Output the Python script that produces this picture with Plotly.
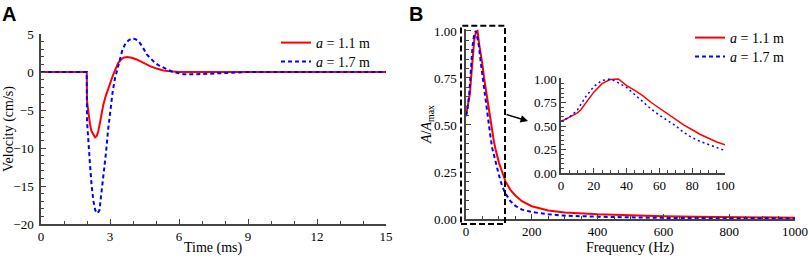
import plotly.graph_objects as go

W, H = 809, 258

# ---------------- data ----------------
time_red = [0, 1.99, 2.0, 2.06, 2.13, 2.2, 2.28, 2.35, 2.42, 2.49, 2.6, 2.71, 2.82, 2.93, 3.04, 3.14, 3.25, 3.36, 3.47, 3.58, 3.75, 3.95, 4.16, 4.45, 4.74, 5.03, 5.32, 5.7, 6.04, 8, 10, 12, 15]
vel_red = [0, 0, -3.8, -5.6, -6.9, -7.8, -8.35, -8.6, -8.45, -7.8, -6.1, -4.3, -3.1, -2.1, -1.15, -0.33, 0.45, 1.2, 1.6, 1.88, 1.96, 1.88, 1.65, 1.2, 0.77, 0.45, 0.2, 0.05, 0, 0, 0, 0, 0]

time_blue = [0, 1.99, 2.0, 2.06, 2.13, 2.2, 2.28, 2.36, 2.45, 2.54, 2.64, 2.74, 2.83, 2.91, 3.0, 3.12, 3.22, 3.33, 3.43, 3.54, 3.65, 3.8, 3.94, 4.08, 4.23, 4.42, 4.6, 4.78, 4.96, 5.14, 5.32, 5.55, 5.75, 6.0, 6.19, 6.77, 7.5, 8.3, 9, 12, 15]
vel_blue = [0, 0, -6.4, -9.6, -12.2, -14.9, -17.0, -18.2, -18.6, -18.2, -15.7, -13.1, -10.5, -7.8, -5.2, -2.5, -0.8, 0.6, 1.9, 2.9, 3.6, 4.15, 4.4, 4.35, 4.1, 3.3, 2.3, 1.7, 1.2, 0.85, 0.55, 0.25, 0.0, -0.2, -0.3, -0.3, -0.2, -0.1, 0, 0, 0]

freq_red = [0, 5, 10, 12, 15, 20, 25, 30, 35, 40, 45, 50, 55, 60, 65, 70, 75, 80, 85, 90, 95, 100, 110, 120, 135, 150, 170, 200, 250, 300, 400, 500, 600, 700, 800, 900, 1000]
amp_red = [0.546, 0.59, 0.64, 0.67, 0.74, 0.86, 0.95, 0.995, 1.0, 0.93, 0.88, 0.82, 0.75, 0.69, 0.63, 0.57, 0.51, 0.46, 0.41, 0.37, 0.33, 0.30, 0.25, 0.20, 0.155, 0.125, 0.095, 0.068, 0.045, 0.035, 0.025, 0.019, 0.015, 0.012, 0.010, 0.008, 0.007]

freq_blue = [0, 5, 10, 15, 20, 25, 30, 35, 40, 45, 50, 55, 60, 65, 70, 75, 80, 85, 90, 95, 100, 110, 120, 135, 150, 170, 200, 250, 300, 400, 500, 600, 700, 800, 900, 1000]
amp_blue = [0.55, 0.59, 0.67, 0.81, 0.92, 0.985, 1.0, 0.96, 0.91, 0.83, 0.76, 0.68, 0.615, 0.555, 0.50, 0.43, 0.375, 0.335, 0.30, 0.265, 0.234, 0.175, 0.135, 0.095, 0.07, 0.05, 0.037, 0.025, 0.018, 0.012, 0.008, 0.006, 0.005, 0.004, 0.003, 0.003]

name_red = "<i>a</i> = 1.1 m"
name_blue = "<i>a</i> = 1.7 m"

RED = "#ff0000"
BLUE = "#0000ff"
SERIF = "Liberation Serif, Times New Roman, serif"


def px_x(p):
    return p / W


def px_y(p):
    return 1 - p / H


fig = go.Figure()

# Panel A
fig.add_trace(go.Scatter(x=time_red, y=vel_red, mode="lines", name=name_red,
                         line=dict(color=RED, width=2), xaxis="x", yaxis="y", legend="legend"))
fig.add_trace(go.Scatter(x=time_blue, y=vel_blue, mode="lines", name=name_blue,
                         line=dict(color=BLUE, width=2, dash="4px,3px"), xaxis="x", yaxis="y", legend="legend3"))
# Panel B
fig.add_trace(go.Scatter(x=freq_red, y=amp_red, mode="lines", name=name_red,
                         line=dict(color=RED, width=2), xaxis="x2", yaxis="y2", legend="legend2"))
fig.add_trace(go.Scatter(x=freq_blue, y=amp_blue, mode="lines", name=name_blue,
                         line=dict(color=BLUE, width=2, dash="4px,3px"), xaxis="x2", yaxis="y2", legend="legend4"))
# Inset
fig.add_trace(go.Scatter(x=freq_red, y=amp_red, mode="lines", showlegend=False,
                         line=dict(color=RED, width=1.5), xaxis="x3", yaxis="y3"))
fig.add_trace(go.Scatter(x=freq_blue, y=amp_blue, mode="lines", showlegend=False,
                         line=dict(color=BLUE, width=1.5, dash="2px,3px"), xaxis="x3", yaxis="y3"))

AX = "#444444"


def axis(domain, rng, dtick, minor_dtick, anchor, **kw):
    d = dict(domain=domain, range=rng, dtick=dtick, tick0=0, showgrid=False, zeroline=False,
             automargin=False,
             showline=True, linecolor=AX, linewidth=1.5, ticks="inside", ticklen=5, tickwidth=1.2,
             tickcolor=AX, tickfont=dict(family=SERIF, size=13, color="black"), anchor=anchor,
             minor=dict(dtick=minor_dtick, tick0=0, ticks="inside", ticklen=3, tickwidth=1, tickcolor=AX, showgrid=False))
    d.update(kw)
    return d


def legend(xp, yp):
    return dict(x=px_x(xp), y=px_y(yp), xanchor="left", yanchor="middle",
                bgcolor="rgba(0,0,0,0)", font=dict(family=SERIF, size=14, color="black"),
                itemwidth=30, tracegroupgap=0)


# pixel geometry
A_x = [px_x(41), px_x(386)]
A_y = [px_y(224), px_y(34)]
B_x = [px_x(466), px_x(795)]
B_y = [px_y(219), px_y(31 - 1.9)]
I_x = [px_x(561), px_x(725)]
I_y = [px_y(173), px_y(79 - 0.94)]

fig.update_layout(
    width=W, height=H, margin=dict(l=0, r=0, t=0, b=0, autoexpand=False),
    font=dict(family=SERIF, size=13, color="black"),
    paper_bgcolor="white", plot_bgcolor="rgba(0,0,0,0)",
    xaxis=axis(A_x, [0, 15], 3, 1, "y"),
    yaxis=axis(A_y, [-20, 5], 5, 1, "x", ticklabelstandoff=3),
    xaxis2=axis(B_x, [0, 1000], 200, 50, "y2"),
    yaxis2=axis(B_y, [0, 1.01], 0.25, 0.05, "x2", tickformat=".2f", ticklabelstandoff=5),
    xaxis3=axis(I_x, [0, 100], 20, 5, "y3"),
    yaxis3=axis(I_y, [0, 1.01], 0.25, 0.05, "x3", tickformat=".2f"),
    legend=legend(276, 43),
    legend3=legend(276, 62),
    legend2=legend(690, 38),
    legend4=legend(690, 57),
    showlegend=True,
)

# dashed zoom box
fig.add_shape(type="rect", xref="paper", yref="paper",
              x0=px_x(461), x1=px_x(505), y0=px_y(224), y1=px_y(25.7),
              line=dict(color="black", width=2, dash="6px,3px"))

annots = [
    dict(text="<b>A</b>", x=px_x(0), y=px_y(1), xanchor="left", yanchor="top",
         font=dict(family="Liberation Sans", size=20, color="black")),
    dict(text="<b>B</b>", x=px_x(407), y=px_y(1), xanchor="left", yanchor="top",
         font=dict(family="Liberation Sans", size=20, color="black")),
    dict(text="Time (ms)", x=px_x(213.5), y=px_y(248), xanchor="center", yanchor="middle",
         font=dict(family=SERIF, size=14, color="black")),
    dict(text="Frequency (Hz)", x=px_x(630.5), y=px_y(248), xanchor="center", yanchor="middle",
         font=dict(family=SERIF, size=14, color="black")),
    dict(text="Velocity (cm/s)", x=px_x(9), y=px_y(129), xanchor="center", yanchor="middle",
         textangle=-90, font=dict(family=SERIF, size=14, color="black")),
    dict(text="<i>A</i>/<i>A</i><sub>max</sub>", x=px_x(427), y=px_y(125), xanchor="center", yanchor="middle",
         textangle=-90, font=dict(family=SERIF, size=14, color="black")),
]
for a in annots:
    fig.add_annotation(xref="paper", yref="paper", showarrow=False, **a)

fig.add_annotation(xref="paper", yref="paper", x=px_x(528), y=px_y(121), ax=-23, ay=-7,
                   text="", showarrow=True, arrowhead=2, arrowsize=1, arrowwidth=1.5, arrowcolor="black")

fig.write_html("out.html", config={"displayModeBar": False},
               post_script="document.body.style.margin='0px';document.body.style.overflow='hidden';")
